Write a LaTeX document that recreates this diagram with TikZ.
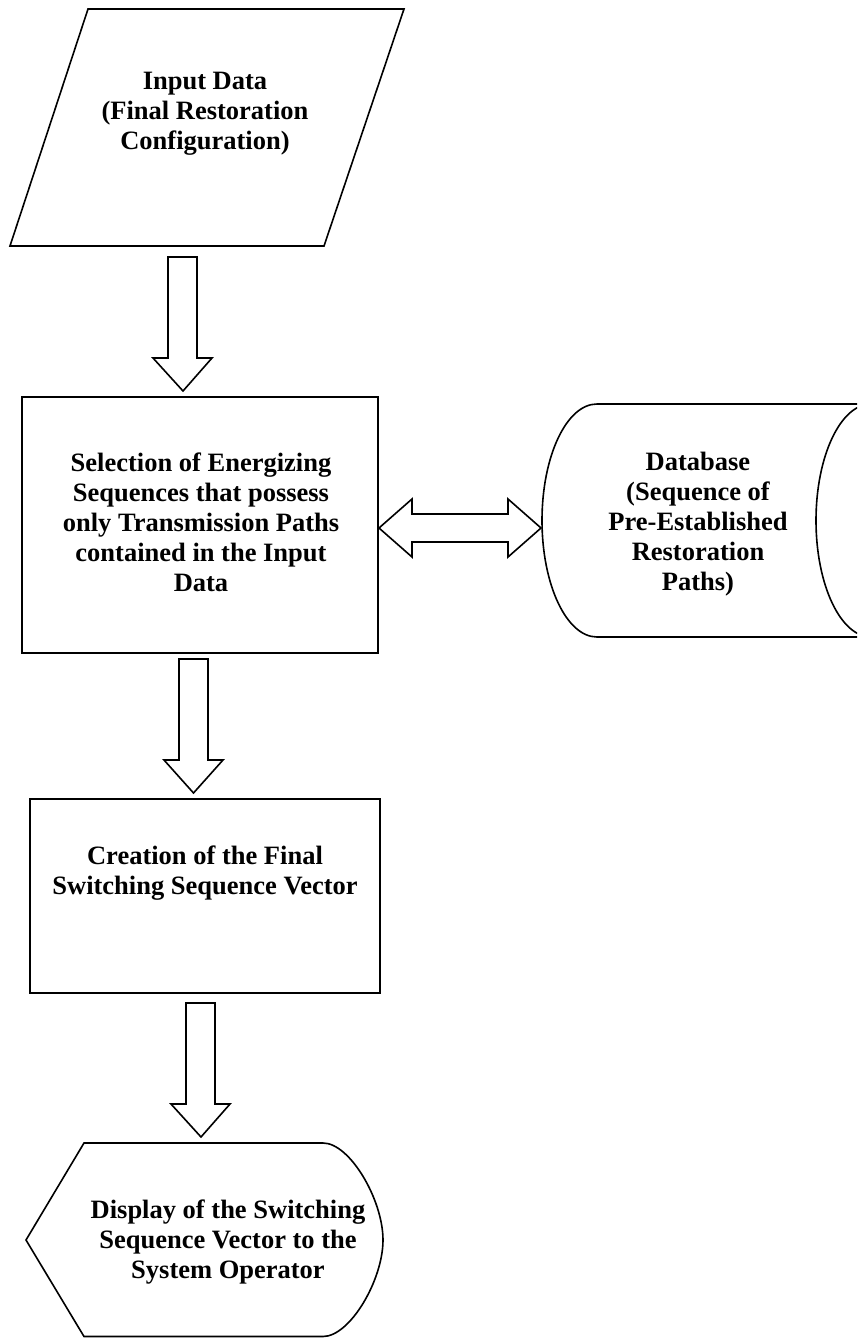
\documentclass[tikz,border=0pt]{standalone}
\usepackage{fontspec}
\setmainfont{Liberation Serif}
\usetikzlibrary{calc}

\tikzset{
  outline/.style={draw=black, line width=1.6pt, line join=miter},
  blockarrow/.style={draw=black, fill=white, line width=1.6pt, line join=miter},
  caption/.style={align=center, inner sep=0pt,
    font=\bfseries\fontsize{26.5}{30}\selectfont}
}

% hollow downward block arrow from the middle of its tail (#1) to its tip (#2)
\newcommand\downblock[2]{%
  \draw[blockarrow] let \p1=(#1), \p2=(#2) in
    (\x1-14.5pt,\y1) -- (\x1+14.5pt,\y1) -- (\x1+14.5pt,\y2+33pt)
    -- (\x1+29.5pt,\y2+33pt) -- (\x2,\y2) -- (\x1-29.5pt,\y2+33pt)
    -- (\x1-14.5pt,\y2+33pt) -- cycle;
}
% hollow two-headed horizontal block arrow between tips #1 (left) and #2 (right)
\newcommand\twowayblock[2]{%
  \draw[blockarrow] let \p1=(#1), \p2=(#2) in
    (\x1,\y1) -- (\x1+33pt,\y1+29pt) -- (\x1+33pt,\y1+14pt)
    -- (\x2-33pt,\y1+14pt) -- (\x2-33pt,\y1+29pt) -- (\x2,\y2)
    -- (\x2-33pt,\y1-29pt) -- (\x2-33pt,\y1-14pt)
    -- (\x1+33pt,\y1-14pt) -- (\x1+33pt,\y1-29pt) -- cycle;
}

\begin{document}
\begin{tikzpicture}[x=1pt, y=-1pt]
  \useasboundingbox (0,0) rectangle (857,1338);

  % input data (parallelogram)
  \draw[outline] (88,9) -- (404,9) -- (324,246) -- (10,246) -- cycle;
  \node[caption] (input) at (205,114)
    {Input Data\\(Final Restoration\\Configuration)};

  % selection process
  \draw[outline] (22,397) rectangle (378,653);
  \node[caption] (select) at (201,522)
    {Selection of Energizing\\Sequences that possess\\only Transmission Paths\\contained in the Input\\Data};

  % stored data (database), cut at the right border
  \begin{scope}
    \clip (0,0) rectangle (857,1338);
    \draw[outline] (871,404) -- (597,404)
      .. controls (566.6,404) and (542,456.2) .. (542,520.5)
      .. controls (542,584.8) and (566.6,637) .. (597,637) -- (871,637);
    \draw[outline] (871,404)
      .. controls (840.6,404) and (816,456.2) .. (816,520.5)
      .. controls (816,584.8) and (840.6,637) .. (871,637);
  \end{scope}
  \node[caption] (db) at (698,524)
    {Database\\(Sequence of\\Pre-Established\\Restoration\\Paths)};

  % creation of the vector
  \draw[outline] (30,799) rectangle (380,993);
  \node[caption] (create) at (205,873)
    {Creation of the Final\\Switching Sequence Vector};

  % display symbol
  \draw[outline] (84,1143) -- (323,1143)
    .. controls (350,1143) and (383,1200) .. (383,1240)
    .. controls (383,1280) and (350,1336.5) .. (323,1336.5)
    -- (84,1336.5) -- (26,1240) -- cycle;
  \node[caption] (show) at (228,1242)
    {Display of the Switching\\Sequence Vector to the\\System Operator};

  % arrow ends
  \coordinate (a1s) at (182.5,257);
  \coordinate (a1e) at (183,391);
  \coordinate (a2s) at (193.5,659);
  \coordinate (a2e) at (193.5,793);
  \coordinate (a3s) at (200.5,1003);
  \coordinate (a3e) at (201,1137);
  \coordinate (dbl) at (379,528);
  \coordinate (dbr) at (541,528);

  \downblock{a1s}{a1e}
  \downblock{a2s}{a2e}
  \downblock{a3s}{a3e}
  \twowayblock{dbl}{dbr}
\end{tikzpicture}
\end{document}
